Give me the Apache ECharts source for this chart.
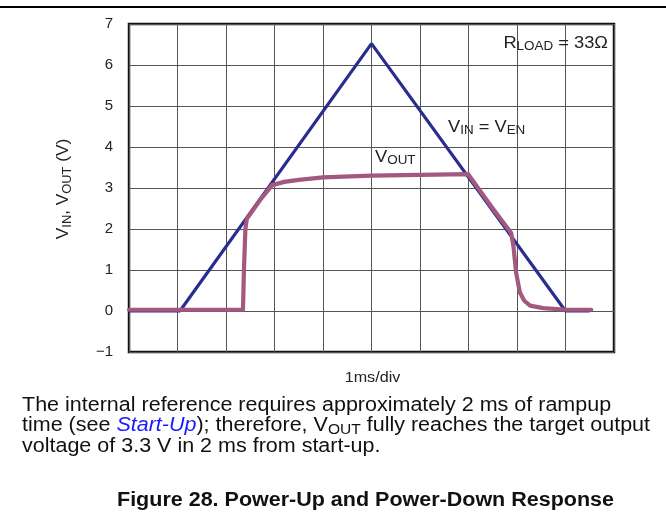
<!DOCTYPE html>
<html><head><meta charset="utf-8">
<script src="https://cdn.jsdelivr.net/npm/echarts@6/dist/echarts.min.js"></script>
<style>html,body{margin:0;padding:0;background:#fff}#c{width:666px;height:514px}</style>
</head><body><div id="c"></div>
<script>
// Time in ms (1 ms/div), voltage in V
const vinT = [0, 1.05, 5.0, 9.0, 9.5];
const vinV = [0, 0, 6.52, 0, 0];
const voutT = [0, 2.35, 2.37, 2.40, 2.43, 2.70, 2.95, 3.20, 3.50, 4.00, 5.00, 6.00, 6.99, 7.50, 7.88, 7.93, 7.98, 8.06, 8.15, 8.27, 8.54, 9.03, 9.53];
const voutV = [0.03, 0.03, 1.00, 2.00, 2.25, 2.70, 3.07, 3.15, 3.20, 3.26, 3.30, 3.32, 3.34, 2.50, 1.90, 1.55, 0.95, 0.45, 0.25, 0.13, 0.07, 0.03, 0.03];
const yTicks = [-1, 0, 1, 2, 3, 4, 5, 6, 7];

const chart = echarts.init(document.getElementById('c'), null, {renderer: 'canvas'});
const FF = '"Liberation Sans", Arial, sans-serif';
const SX = 1.075;
function richSet(main, subSize, color) {
  return {
    n: {fontSize: main, fontFamily: FF, fill: color, lineHeight: main + 3, verticalAlign: 'middle'},
    s: {fontSize: subSize, fontFamily: FF, fill: color, lineHeight: subSize, verticalAlign: 'bottom'},
    l: {fontSize: main, fontFamily: FF, fill: '#1a1aff', fontStyle: 'italic', lineHeight: main + 3, verticalAlign: 'middle'}
  };
}
chart.setOption({
  animation: false,
  backgroundColor: '#fff',
  grid: {left: 129, top: 24, width: 485, height: 328, show: true, borderColor: '#111', borderWidth: 2.5, backgroundColor: 'transparent'},
  xAxis: {type: 'value', min: 0, max: 10, interval: 1,
    axisLine: {show: false}, axisTick: {show: false}, axisLabel: {show: false},
    splitLine: {show: true, lineStyle: {color: '#555', width: 1}}},
  yAxis: {type: 'value', min: -1, max: 7, interval: 1,
    axisLine: {show: false}, axisTick: {show: false},
    axisLabel: {fontSize: 15, fontFamily: FF, color: '#222', margin: 16,
      formatter: v => (yTicks.includes(v) ? (v < 0 ? '\u2212' + Math.abs(v) : String(v)) : '')},
    splitLine: {show: true, lineStyle: {color: '#555', width: 1}}},
  series: [
    {name: 'VIN', type: 'line', data: vinT.map((t, i) => [t, vinV[i]]), showSymbol: false,
      lineStyle: {color: '#2b2d8e', width: 3.2}, z: 3},
    {name: 'VOUT', type: 'line', data: voutT.map((t, i) => [t, voutV[i]]), showSymbol: false,
      lineStyle: {color: '#a3587f', width: 4.2, join: 'round', cap: 'round'}, z: 4}
  ],
  graphic: [
    {type: 'line', shape: {x1: 0, y1: 7, x2: 666, y2: 7}, style: {stroke: '#000', lineWidth: 2}},
    {type: 'text', x: 64, y: 189, rotation: Math.PI / 2, scaleX: SX,
      style: {text: '{n|V}{s|IN}{n|, V}{s|OUT}{n| (V)}', align: 'center', verticalAlign: 'middle', rich: richSet(16, 12, '#222')}},
    {type: 'text', x: 372.5, y: 378, scaleX: SX,
      style: {text: '1ms/div', align: 'center', verticalAlign: 'middle', fontSize: 15, fontFamily: FF, fill: '#222'}},
    {type: 'text', x: 608, y: 43, z: 10, scaleX: SX,
      style: {text: '{n|R}{s|LOAD}{n| = 33\u03A9}', align: 'right', verticalAlign: 'middle', rich: richSet(17, 12.5, '#222')}},
    {type: 'text', x: 448, y: 127, z: 10, scaleX: SX,
      style: {text: '{n|V}{s|IN}{n| = V}{s|EN}', align: 'left', verticalAlign: 'middle', rich: richSet(17, 12.5, '#222')}},
    {type: 'text', x: 375, y: 157, z: 10, scaleX: SX,
      style: {text: '{n|V}{s|OUT}', align: 'left', verticalAlign: 'middle', rich: richSet(17, 12.5, '#222')}},
    {type: 'text', x: 22, y: 405, scaleX: SX,
      style: {text: 'The internal reference requires approximately 2 ms of rampup', align: 'left', verticalAlign: 'middle', fontSize: 20, fontFamily: FF, fill: '#111'}},
    {type: 'text', x: 22, y: 425.5, scaleX: SX,
      style: {text: '{n|time (see }{l|Start-Up}{n|); therefore, V}{s|OUT}{n| fully reaches the target output}', align: 'left', verticalAlign: 'middle', rich: richSet(20, 14.5, '#111')}},
    {type: 'text', x: 22, y: 446, scaleX: SX,
      style: {text: 'voltage of 3.3 V in 2 ms from start-up.', align: 'left', verticalAlign: 'middle', fontSize: 20, fontFamily: FF, fill: '#111'}},
    {type: 'text', x: 365.5, y: 500, scaleX: SX,
      style: {text: 'Figure 28. Power-Up and Power-Down Response', align: 'center', verticalAlign: 'middle', fontSize: 20, fontWeight: 'bold', fontFamily: FF, fill: '#111'}}
  ]
});
</script></body></html>
